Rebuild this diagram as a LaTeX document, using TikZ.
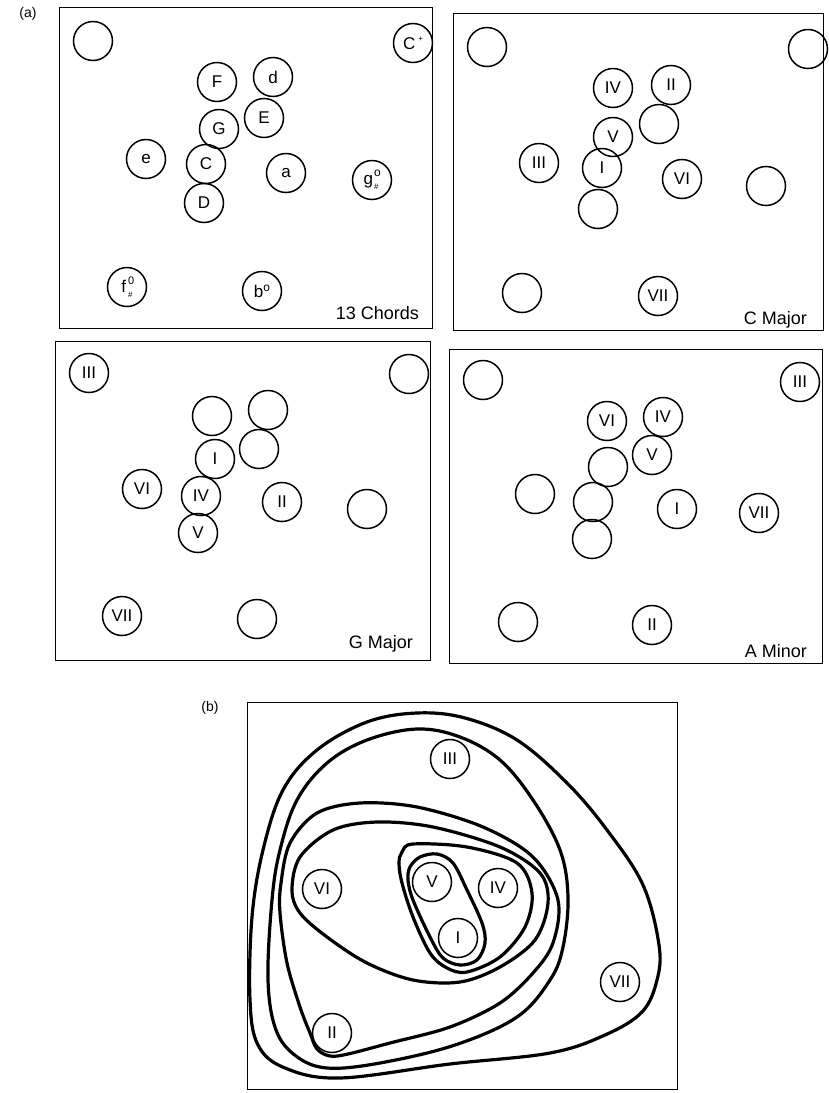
\documentclass[tikz,border=0pt]{standalone}
\usepackage{fontspec}
\setmainfont{Liberation Sans}
\begin{document}
\begin{tikzpicture}[x=1pt,y=-1pt,
  chord/.style={circle, draw, line width=1.5pt, minimum size=39pt, inner sep=0pt, font=\fontsize{17}{17}\selectfont},
  panel/.style={draw, line width=1pt},
  region/.style={draw, line width=3.2pt, line join=round},
  plabel/.style={font=\fontsize{18}{18}\selectfont, anchor=east, inner sep=0pt},
  tag/.style={font=\fontsize{14}{14}\selectfont, inner sep=0pt}]
\useasboundingbox (0,0) rectangle (829,1093);
\fill[white] (0,0) rectangle (829,1093);

% ---------- (a) ----------
\node[tag] (taga) at (28,14) {(a)};

% Panel 1: 13 Chords
\draw[panel] (59,7) rectangle (432,328);
\node[chord] (p1n0) at (93,41) {};
\node[chord] (p1cp) at (413,43) {C\kern3pt\raisebox{8pt}{\fontsize{8}{8}\selectfont +}};
\node[chord] (p1F) at (217,82) {F};
\node[chord] (p1d) at (273,77) {d};
\node[chord] (p1E) at (264,118) {E};
\node[chord] (p1G) at (219,129) {G};
\node[chord] (p1e) at (146,159) {e};
\node[chord] (p1C) at (206,164) {C};
\node[chord] (p1a) at (286,173) {a};
\node[chord] (p1g) at (372,180) {g\kern1pt\rlap{\raisebox{8pt}{\fontsize{12}{12}\selectfont o}}\raisebox{-5pt}{\fontsize{8}{8}\selectfont\#}\kern2pt};
\node[chord] (p1D) at (204,203) {D};
\node[chord] (p1f) at (127,287) {f\kern2pt\rlap{\raisebox{8pt}{\fontsize{11}{11}\selectfont 0}}\raisebox{-5pt}{\fontsize{8}{8}\selectfont\#}};
\node[chord] (p1b) at (262,291) {b\raisebox{6pt}{\fontsize{12}{12}\selectfont o}};
\node[plabel] (l1) at (419,313) {13 Chords};

% Panel 2: C Major
\draw[panel] (453,13) rectangle (823,330);
\node[chord] (p2n1) at (487,47) {};
\node[chord] (p2n2) at (808,49) {};
\node[chord] (p2IV) at (613,88) {IV};
\node[chord] (p2II) at (671,85) {II};
\node[chord] (p2n3) at (659,124) {};
\node[chord] (p2V) at (613,137) {V};
\node[chord] (p2III) at (539,163) {III};
\node[chord] (p2I) at (602,168) {I};
\node[chord] (p2VI) at (682,179) {VI};
\node[chord] (p2n4) at (766,186) {};
\node[chord] (p2n5) at (598,209) {};
\node[chord] (p2n6) at (522,293) {};
\node[chord] (p2VII) at (658,296) {VII};
\node[plabel] (l2) at (807,320) {C Major};

% Panel 3: G Major
\draw[panel] (55,341) rectangle (430,660);
\node[chord] (p3III) at (89,373) {III};
\node[chord] (p3n1) at (409,374) {};
\node[chord] (p3n2) at (212,416) {};
\node[chord] (p3n3) at (268,410) {};
\node[chord] (p3I) at (215,459) {I};
\node[chord] (p3n4) at (259,449) {};
\node[chord] (p3VI) at (142,489) {VI};
\node[chord] (p3IV) at (201,496) {IV};
\node[chord] (p3II) at (282,502) {II};
\node[chord] (p3n5) at (367,509) {};
\node[chord] (p3V) at (198,533) {V};
\node[chord] (p3VII) at (122,616) {VII};
\node[chord] (p3n6) at (257,619) {};
\node[plabel] (l3) at (413,644) {G Major};

% Panel 4: A Minor
\draw[panel] (449,349) rectangle (822,663);
\node[chord] (p4n1) at (483,380) {};
\node[chord] (p4III) at (800,382) {III};
\node[chord] (p4VI) at (607,421) {VI};
\node[chord] (p4IV) at (663,417) {IV};
\node[chord] (p4V) at (652,455) {V};
\node[chord] (p4n2) at (608,467) {};
\node[chord] (p4n3) at (535,494) {};
\node[chord] (p4n4) at (593,502) {};
\node[chord] (p4I) at (677,509) {I};
\node[chord] (p4VII) at (759,513) {VII};
\node[chord] (p4n5) at (592,539) {};
\node[chord] (p4n6) at (518,622) {};
\node[chord] (p4II) at (652,625) {II};
\node[plabel] (l4) at (807,651) {A Minor};

% ---------- (b) ----------
\node[tag] (tagb) at (210,708) {(b)};
\draw[panel] (247,702) rectangle (677,1089);

% regions (outer to inner)
\draw[region] plot[smooth cycle, tension=0.6] coordinates {
 (417,713) (367,722) (317,750) (283,790) (263,850) (252,917) (250,1000)
 (258,1045) (285,1068) (340,1078) (450,1064) (550,1053) (605,1035)
 (642,1012) (657,980) (659,945) (643,885) (607,830) (567,783) (517,740) (465,718)};
\draw[region] plot[smooth cycle, tension=0.6] coordinates {
 (417,729) (367,740) (327,763) (297,800) (280,850) (272,900) (268,980)
 (276,1030) (296,1056) (327,1068) (380,1063) (455,1045) (517,1017)
 (550,980) (563,947) (568,897) (560,850) (533,800) (500,760) (460,737)};
\draw[region] plot[smooth cycle, tension=0.55] coordinates {
 (360,803) (417,807) (483,827) (533,857) (558,900) (553,943) (533,973)
 (500,1003) (450,1027) (390,1043) (348,1054) (330,1056) (317,1049)
 (310,1033) (300,1007) (287,963) (280,913) (281,883) (290,843) (317,813)};
\draw[region] plot[smooth cycle, tension=0.55] coordinates {
 (292,890) (300,857) (333,830) (377,822) (433,827) (500,847) (540,873)
 (548,903) (535,940) (500,967) (460,982) (413,980) (367,963) (327,937) (300,913)};
\draw[region] plot[smooth cycle, tension=0.55] coordinates {
 (402,852) (413,844) (467,847) (517,863) (532,893) (525,927) (500,957)
 (467,972) (447,968) (430,953) (413,917) (402,883) (399,863)};
\draw[region] plot[smooth cycle, tension=0.55] coordinates {
 (410,867) (420,857) (437,854) (453,863) (467,890) (482,923) (485,943)
 (477,960) (460,965) (443,958) (430,937) (413,900) (408,880)};

\node[chord] (bIII) at (450,759) {III};
\node[chord] (bVI) at (322,889) {VI};
\node[chord] (bV) at (432,882) {V};
\node[chord] (bIV) at (498,888) {IV};
\node[chord] (bI) at (458,938) {I};
\node[chord] (bVII) at (620,982) {VII};
\node[chord] (bII) at (332,1033) {II};
\end{tikzpicture}
\end{document}
